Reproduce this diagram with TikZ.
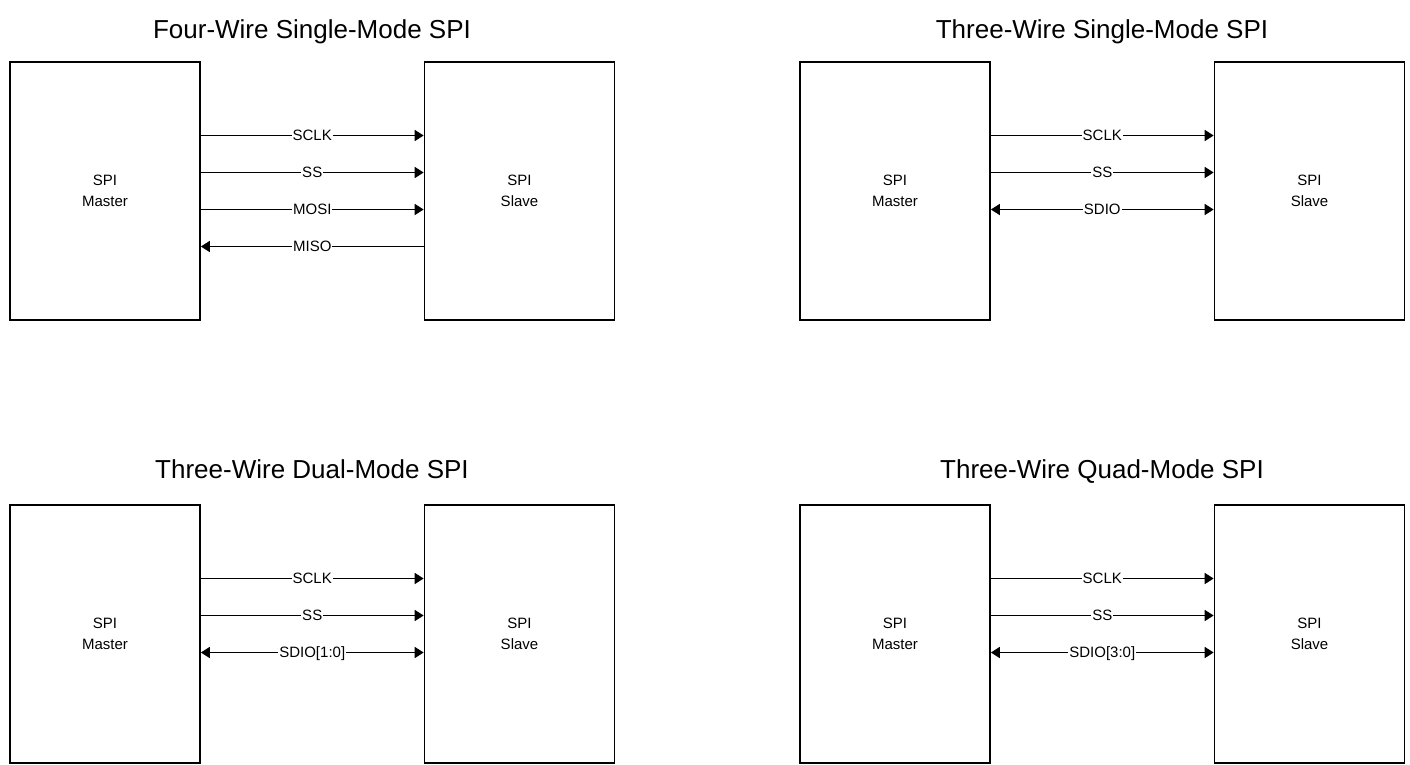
\documentclass[tikz,border=0pt]{standalone}
\usepackage{fontspec}
\setmainfont{Liberation Sans}
\usetikzlibrary{arrows.meta}

\tikzset{
  spibox/.style = {draw, line width=1.7pt, minimum width=190pt, minimum height=258pt,
                   inner sep=0pt, align=center, font=\fontsize{15}{21.5}\selectfont},
  ttl/.style    = {font=\fontsize{26}{30}\selectfont, inner sep=0pt, anchor=base},
  sig/.style    = {line width=1.7pt, -{Triangle[length=9pt,width=11pt]}},
  bidir/.style  = {line width=1.7pt, {Triangle[length=9pt,width=11pt]}-{Triangle[length=9pt,width=11pt]}},
  back/.style   = {line width=1.7pt, {Triangle[length=9pt,width=11pt]}-},
  lbl/.style    = {fill=white, inner sep=1pt, text height=10.8pt, text depth=0pt,
                   font=\fontsize{15}{18}\selectfont},
}

\begin{document}
\begin{tikzpicture}[x=1pt, y=-1pt]
\useasboundingbox (0,0) rectangle (1410,764);

% four-wire single mode
\node[ttl] (t1) at (312,38) {Four-Wire Single-Mode SPI};
\node[spibox] (m1) at (105,191) {SPI\\Master};
\node[spibox] (s1) at (519.5,191) {SPI\\Slave};
\draw[sig] ([yshift=55.5pt]m1.east) -- node[lbl]{SCLK} ([yshift=55.5pt]s1.west);
\draw[sig] ([yshift=18.5pt]m1.east) -- node[lbl]{SS} ([yshift=18.5pt]s1.west);
\draw[sig] ([yshift=-18.5pt]m1.east) -- node[lbl]{MOSI} ([yshift=-18.5pt]s1.west);
\draw[back] ([yshift=-55.5pt]m1.east) -- node[lbl]{MISO} ([yshift=-55.5pt]s1.west);

% three-wire single mode
\node[ttl] (t2) at (1102,38) {Three-Wire Single-Mode SPI};
\node[spibox] (m2) at (895,191) {SPI\\Master};
\node[spibox] (s2) at (1309.5,191) {SPI\\Slave};
\draw[sig] ([yshift=55.5pt]m2.east) -- node[lbl]{SCLK} ([yshift=55.5pt]s2.west);
\draw[sig] ([yshift=18.5pt]m2.east) -- node[lbl]{SS} ([yshift=18.5pt]s2.west);
\draw[bidir] ([yshift=-18.5pt]m2.east) -- node[lbl]{SDIO} ([yshift=-18.5pt]s2.west);

% three-wire dual mode
\node[ttl] (t3) at (312,478) {Three-Wire Dual-Mode SPI};
\node[spibox] (m3) at (105,634) {SPI\\Master};
\node[spibox] (s3) at (519.5,634) {SPI\\Slave};
\draw[sig] ([yshift=55.5pt]m3.east) -- node[lbl]{SCLK} ([yshift=55.5pt]s3.west);
\draw[sig] ([yshift=18.5pt]m3.east) -- node[lbl]{SS} ([yshift=18.5pt]s3.west);
\draw[bidir] ([yshift=-18.5pt]m3.east) -- node[lbl]{SDIO[1:0]} ([yshift=-18.5pt]s3.west);

% three-wire quad mode
\node[ttl] (t4) at (1102,478) {Three-Wire Quad-Mode SPI};
\node[spibox] (m4) at (895,634) {SPI\\Master};
\node[spibox] (s4) at (1309.5,634) {SPI\\Slave};
\draw[sig] ([yshift=55.5pt]m4.east) -- node[lbl]{SCLK} ([yshift=55.5pt]s4.west);
\draw[sig] ([yshift=18.5pt]m4.east) -- node[lbl]{SS} ([yshift=18.5pt]s4.west);
\draw[bidir] ([yshift=-18.5pt]m4.east) -- node[lbl]{SDIO[3:0]} ([yshift=-18.5pt]s4.west);
\end{tikzpicture}
\end{document}
